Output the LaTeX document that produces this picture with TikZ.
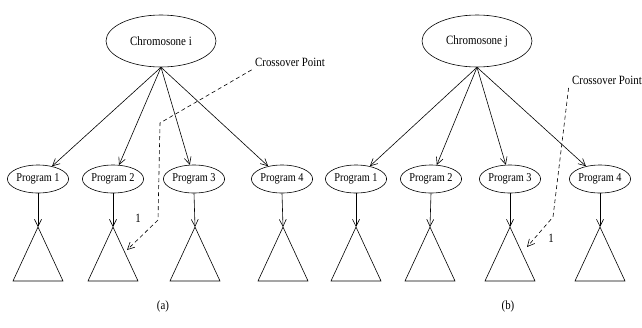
\documentclass[tikz,border=0pt]{standalone}
\usepackage{fontspec}
\setmainfont{Liberation Serif}[FakeStretch=0.86]
\usepackage{tikz}
\usetikzlibrary{arrows.meta, positioning, shapes.geometric}
\tikzset{%
	chromosome/.style={
		ellipse,
		draw,
		minimum width=110pt,
		minimum height=52pt,
		inner sep=0pt,
		font=\fontsize{12.7}{14}\selectfont
	},
	program/.style={
		ellipse,
		draw,
		minimum width=60pt,
		minimum height=28pt,
		inner sep=0pt,
		font=\fontsize{12}{13}\selectfont
	},
	link/.style={
		-{Straight Barb[length=7pt,width=7pt]},
		line width=0.6pt
	},
	crossline/.style={
		link,
		dash pattern=on 4pt off 3pt
	},
	plain label/.style={
		font=\fontsize{12.6}{14}\selectfont
	},
}

\begin{document}
\begin{tikzpicture}[x=1pt, y=-1pt, line width=0.6pt]
	\useasboundingbox (0,0) rectangle (642,327);
	
	% Draw the first chromosome
	\node[chromosome] (chromI) at (161,41) {Chromosone i};
	
	% Draw its programs
	\node[program] (progI1) at (38,179) {Program 1};
	\node[program] (progI2) at (113,179) {Program 2};
	\node[program] (progI3) at (194,179) {Program 3};
	\node[program] (progI4) at (282,179) {Program 4};
	
	% Draw the trees
	\coordinate (treeI1) at (38,227);
	\coordinate (treeI2) at (113,227);
	\coordinate (treeI3) at (195,227);
	\coordinate (treeI4) at (283,227);
	\draw (treeI1) -- ++(-25,54) -- ++(50,0) -- cycle;
	\draw (treeI2) -- ++(-25,54) -- ++(50,0) -- cycle;
	\draw (treeI3) -- ++(-25,54) -- ++(50,0) -- cycle;
	\draw (treeI4) -- ++(-25,54) -- ++(50,0) -- cycle;
	
	% Draw the arrows
	\draw[link] (chromI.south) -- (progI1);
	\draw[link] (chromI.south) -- (progI2);
	\draw[link] (chromI.south) -- (progI3);
	\draw[link] (chromI.south) -- (progI4);
	\draw[link] (progI1.south) -- (treeI1);
	\draw[link] (progI2.south) -- (treeI2);
	\draw[link] (progI3.south) -- (treeI3);
	\draw[link] (progI4.south) -- (treeI4);
	
	% Draw the crossover point
	\node[plain label] (crossI) at (290,62) {Crossover Point};
	\coordinate (cutI) at (127,250);
	\draw[crossline] (crossI.south west) -- (160,123) -- (158,220) -- (cutI);
	\node[plain label] (oneI) at (138,218) {1};
	\node[plain label] (capA) at (163,306) {(a)};
	
	% Draw the second chromosome
	\node[chromosome] (chromJ) at (477,41) {Chromosone j};
	
	% Draw its programs
	\node[program] (progJ1) at (356,179) {Program 1};
	\node[program] (progJ2) at (431,179) {Program 2};
	\node[program] (progJ3) at (510,179) {Program 3};
	\node[program] (progJ4) at (600,179) {Program 4};
	
	% Draw the trees
	\coordinate (treeJ1) at (356,227);
	\coordinate (treeJ2) at (430,227);
	\coordinate (treeJ3) at (510,227);
	\coordinate (treeJ4) at (600,227);
	\draw (treeJ1) -- ++(-25,54) -- ++(50,0) -- cycle;
	\draw (treeJ2) -- ++(-25,54) -- ++(50,0) -- cycle;
	\draw (treeJ3) -- ++(-25,54) -- ++(50,0) -- cycle;
	\draw (treeJ4) -- ++(-25,54) -- ++(50,0) -- cycle;
	
	% Draw the arrows
	\draw[link] (chromJ.south) -- (progJ1);
	\draw[link] (chromJ.south) -- (progJ2);
	\draw[link] (chromJ.south) -- (progJ3);
	\draw[link] (chromJ.south) -- (progJ4);
	\draw[link] (progJ1.south) -- (treeJ1);
	\draw[link] (progJ2.south) -- (treeJ2);
	\draw[link] (progJ3.south) -- (treeJ3);
	\draw[link] (progJ4.south) -- (treeJ4);
	
	% Draw the crossover point
	\node[plain label] (crossJ) at (607,80) {Crossover Point};
	\coordinate (cutJ) at (527,247);
	\draw[crossline] (crossJ.south west) -- (553,217) -- (cutJ);
	\node[plain label] (oneJ) at (551,238) {1};
	\node[plain label] (capB) at (508,306) {(b)};
	
\end{tikzpicture}
\end{document}
